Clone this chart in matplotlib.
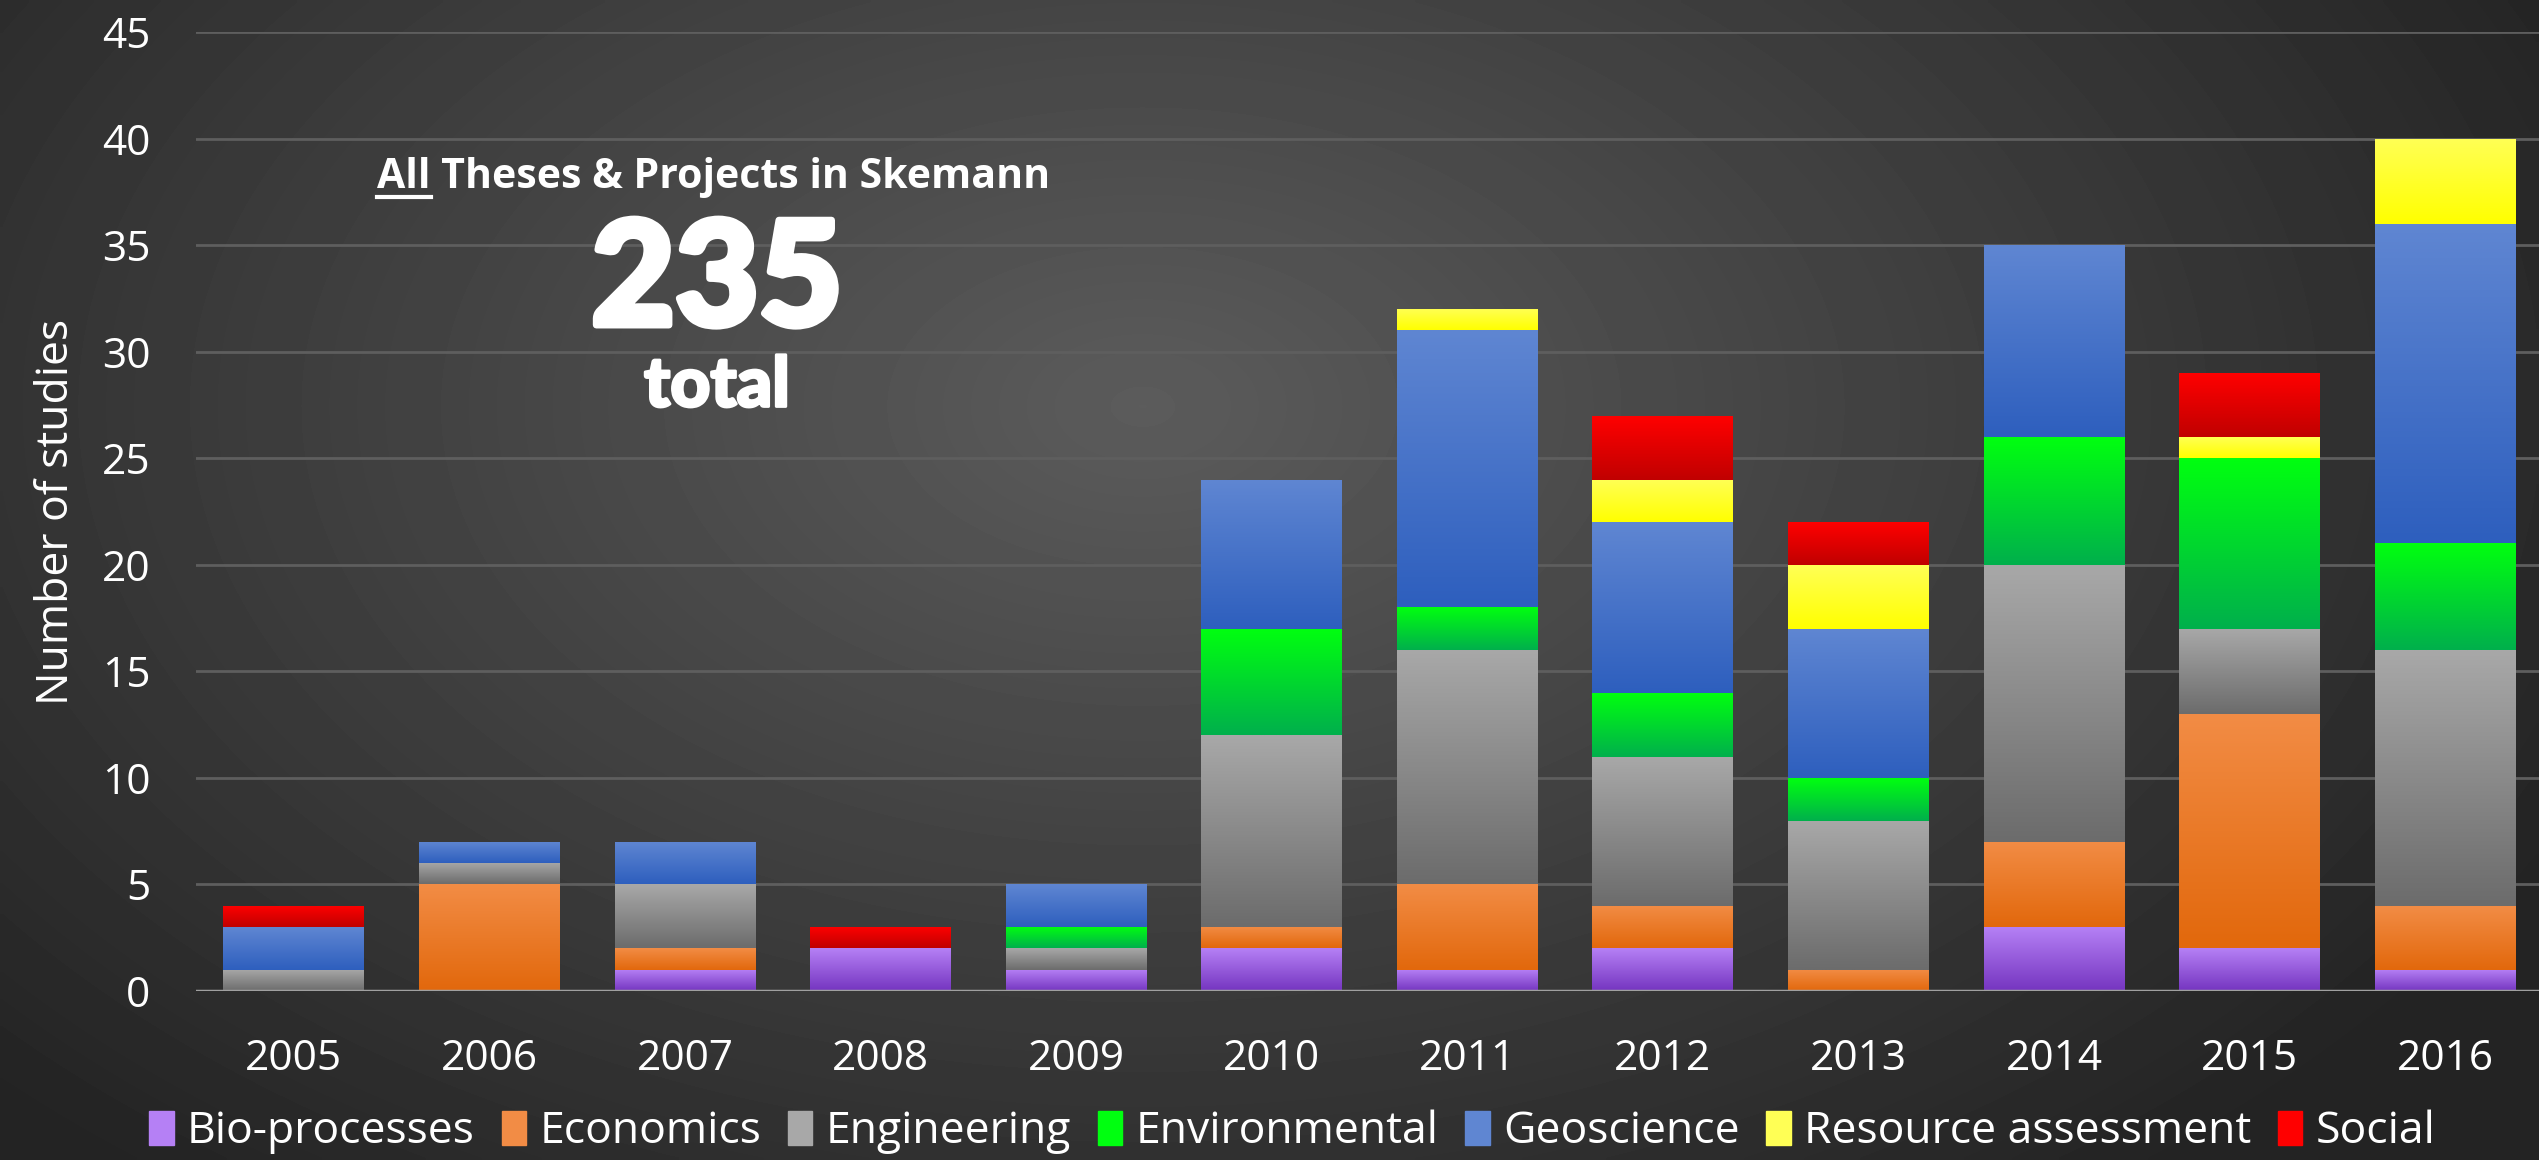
import numpy as np
import matplotlib
matplotlib.use("Agg")
import matplotlib.pyplot as plt
import matplotlib.patheffects as pe
from matplotlib.colors import LinearSegmentedColormap
from matplotlib.lines import Line2D

years = ["2005", "2006", "2007", "2008", "2009", "2010", "2011", "2012", "2013", "2014", "2015", "2016"]
bio_processes = [0, 0, 1, 2, 1, 2, 1, 2, 0, 3, 2, 1]
economics = [0, 5, 1, 0, 0, 1, 4, 2, 1, 4, 11, 3]
engineering = [1, 1, 3, 0, 1, 9, 11, 7, 7, 13, 4, 12]
environmental = [0, 0, 0, 0, 1, 5, 2, 3, 2, 6, 8, 5]
geoscience = [2, 1, 2, 0, 2, 7, 13, 8, 7, 9, 0, 15]
resource_assessment = [0, 0, 0, 0, 0, 0, 1, 2, 3, 0, 1, 4]
social = [1, 0, 0, 1, 0, 0, 0, 3, 2, 0, 3, 0]

series = [
    ("Bio-processes", bio_processes, "#b580f5", "#7535c0"),
    ("Economics", economics, "#f28c45", "#e2680c"),
    ("Engineering", engineering, "#a8a8a8", "#6c6c6c"),
    ("Environmental", environmental, "#00ff10", "#00b04c"),
    ("Geoscience", geoscience, "#5f86d2", "#2e5fbe"),
    ("Resource assessment", resource_assessment, "#ffff55", "#ffff00"),
    ("Social", social, "#ff0000", "#c00000"),
]

plt.rcParams["font.family"] = ["Open Sans", "DejaVu Sans"]

fig = plt.figure(figsize=(25.39, 11.6), dpi=100)

# dark radial background
bg = fig.add_axes([0, 0, 1, 1])
bg.axis("off")
xx, yy = np.meshgrid(np.linspace(0, 1, 500), np.linspace(0, 1, 250))
r = np.sqrt(((xx - 0.45) / 0.62) ** 2 + ((yy - 0.65) / 0.85) ** 2)
shade = 0.36 - 0.22 * np.clip(r, 0, 1)
bg.imshow(shade, cmap="gray", vmin=0, vmax=1, origin="lower", aspect="auto",
          extent=[0, 1, 0, 1], interpolation="bilinear")
bg.set_xlim(0, 1)
bg.set_ylim(0, 1)

ax = fig.add_axes([0.0772, 0.1457, 0.9228, 0.8267])
ax.patch.set_alpha(0)

x = np.arange(len(years))
bottom = np.zeros(len(years))
grad = np.linspace(0, 1, 100).reshape(-1, 1)
handles = []
for name, vals, top_c, bot_c in series:
    vals = np.array(vals, dtype=float)
    cmap = LinearSegmentedColormap.from_list(name, [bot_c, top_c])
    bars = ax.bar(x, vals, 0.72, bottom=bottom, color=top_c, edgecolor="none", zorder=3)
    for b in bars:
        if b.get_height() <= 0:
            continue
        x0, y0 = b.get_x(), b.get_y()
        im = ax.imshow(grad, cmap=cmap, origin="lower", aspect="auto",
                       extent=[x0, x0 + b.get_width(), y0, y0 + b.get_height()], zorder=4)
        im.set_clip_path(b)
    bottom += vals
    handles.append(plt.Rectangle((0, 0), 1, 1, color=top_c))

ax.set_xlim(-0.5, 11.48)
ax.set_ylim(0, 45)
ax.set_yticks(range(0, 46, 5))
ax.set_xticks(x)
ax.set_xticklabels(years)
ax.grid(axis="y", color="#5e5e5e", lw=2, zorder=0)
ax.set_axisbelow(True)
for s in ax.spines.values():
    s.set_visible(False)
ax.axhline(0, color="#a0a0a0", lw=2.5, zorder=5)
ax.tick_params(length=0, colors="white", labelsize=30.5)
ax.tick_params(axis="y", pad=33)
ax.tick_params(axis="x", pad=34)
ax.set_ylabel("Number of studies", color="white", fontsize=32, labelpad=16)

fig.legend(handles, [s[0] for s in series], loc="center", bbox_to_anchor=(0.509, 0.024),
           ncol=7, frameon=False, fontsize=32, labelcolor="white",
           handlelength=0.55, handleheight=0.8, handletextpad=0.3, columnspacing=0.6)

# annotation block
title = fig.text(714 / 2539, 1 - 177 / 1160, "All Theses & Projects in Skemann", color="white",
                 fontsize=29.5, fontweight="bold", ha="center", va="center")
fig.text(717 / 2539, 1 - 283 / 1160, "235", color="white", fontsize=104, fontweight="black",
         ha="center", va="center", family=["Lato", "Roboto", "DejaVu Sans"],
         path_effects=[pe.withStroke(linewidth=5, foreground="white")])
fig.text(717 / 2539, 1 - 387 / 1160, "total", color="white", fontsize=50, fontweight="black",
         ha="center", va="center", family=["Lato", "Roboto", "DejaVu Sans"],
         path_effects=[pe.withStroke(linewidth=2, foreground="white")])

fig.canvas.draw()
rend = fig.canvas.get_renderer()
bb = title.get_window_extent(rend)
probe = fig.text(0, 0, "All", fontsize=29.5, fontweight="bold")
w_all = probe.get_window_extent(rend).width
probe.remove()
W, H = fig.bbox.width, fig.bbox.height
uy = (bb.y0 + 1) / H
fig.add_artist(Line2D([bb.x0 / W, (bb.x0 + w_all) / W], [uy, uy], color="white", lw=3))

fig.savefig("out.png", dpi=100)
